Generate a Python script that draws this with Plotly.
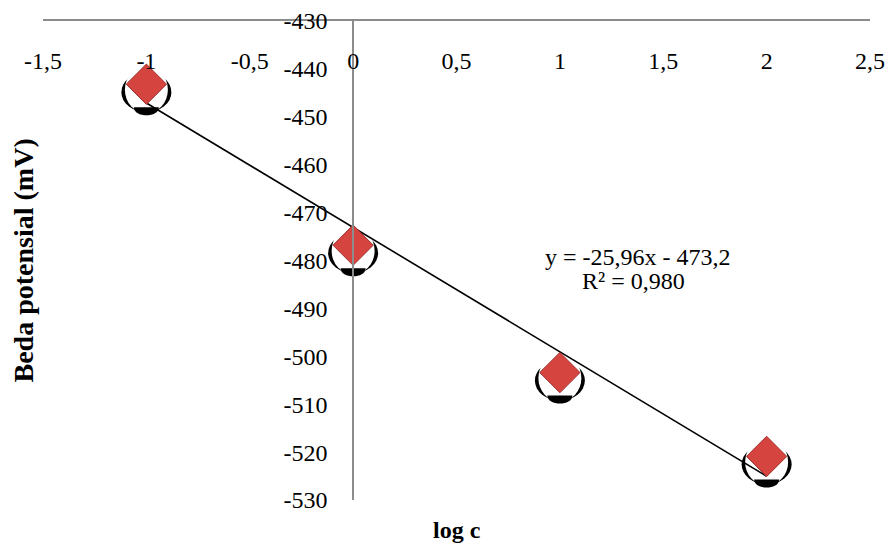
import numpy as np
import plotly.graph_objects as go

# Data
log_c = [-1, 0, 1, 2]
potential = [-443.2, -476.8, -503.4, -520.9]

x_tick_vals = [-1.5, -1, -0.5, 0, 0.5, 1, 1.5, 2, 2.5]
x_tick_text = ["-1,5", "-1", "-0,5", "0", "0,5", "1", "1,5", "2", "2,5"]
y_tick_vals = [-530, -520, -510, -500, -490, -480, -470, -460, -450, -440, -430]
y_tick_text = ["-530", "-520", "-510", "-500", "-490", "-480", "-470", "-460", "-450", "-440", "-430"]

eq_text = "y = -25,96x - 473,2"
r2_text = "R² = 0,980"
x_title = "log c"
y_title = "Beda potensial (mV)"

FONT = "Liberation Serif, Times New Roman, serif"
X_RANGE = [-1.5, 2.5]
Y_RANGE = [-530, -430]

slope, intercept = np.polyfit(log_c, potential, 1)
trend_x = [min(log_c), max(log_c)]
trend_y = [slope * v + intercept for v in trend_x]

fig = go.Figure()

# marker "shadow" decorations, anchored at each data point, sized in pixels
shapes = []
for xv, yv in zip(log_c, potential):
    common = dict(xref="x", yref="y", layer="below", xsizemode="pixel",
                  ysizemode="pixel", xanchor=xv, yanchor=yv, line=dict(width=0))
    shapes.append(dict(type="circle", x0=-25, x1=25, y0=-28, y1=12,
                       fillcolor="black", **common))
    shapes.append(dict(type="circle", x0=-21.5, x1=21.5, y0=-29, y1=18,
                       fillcolor="white", **common))
    shapes.append(dict(type="path",
                       path="M -12.5,-23 C -12.5,-33.7 12.5,-33.7 12.5,-23 Z",
                       fillcolor="black", **common))

# trendline
fig.add_trace(go.Scatter(
    x=trend_x, y=trend_y, mode="lines",
    line=dict(color="black", width=1.6),
    showlegend=False, hoverinfo="skip",
))

# diamonds
fig.add_trace(go.Scatter(
    x=log_c, y=potential, mode="markers",
    marker=dict(symbol="diamond", size=31, color="#d5443f",
                line=dict(color="#9c2f2c", width=1)),
    showlegend=False,
))

# invisible trace carrying the tick-label axis
fig.add_trace(go.Scatter(
    x=log_c, y=potential, mode="markers", xaxis="x2",
    marker=dict(opacity=0), showlegend=False, hoverinfo="skip",
))

fig.add_annotation(x=0.7195, y=0.507, xref="paper", yref="paper", text=eq_text,
                   showarrow=False, font=dict(size=24, family=FONT, color="black"),
                   xanchor="center", yanchor="middle")
fig.add_annotation(x=0.7146, y=0.457, xref="paper", yref="paper", text=r2_text,
                   showarrow=False, font=dict(size=24, family=FONT, color="black"),
                   xanchor="center", yanchor="middle")
fig.add_annotation(x=0.5, y=-0.063, xref="paper", yref="paper", text="<b>" + x_title + "</b>",
                   showarrow=False, font=dict(size=24, family=FONT, color="black"),
                   xanchor="center", yanchor="middle")
fig.add_annotation(x=-0.0230, y=0.5, xref="paper", yref="paper", text="<b>" + y_title + "</b>",
                   showarrow=False, textangle=-90, font=dict(size=28, family=FONT, color="black"),
                   xanchor="center", yanchor="middle")

fig.update_layout(
    width=893, height=546,
    margin=dict(l=43, r=23, t=21, b=46),
    paper_bgcolor="white", plot_bgcolor="white",
    font=dict(family=FONT, size=24, color="black"),
    shapes=shapes,
    xaxis=dict(
        range=X_RANGE, side="top", anchor="y", automargin=False,
        showticklabels=False,
        showline=True, linecolor="#8c8c8c", linewidth=1.6,
        showgrid=False, zeroline=False, ticks="",
    ),
    xaxis2=dict(
        range=X_RANGE, overlaying="x", anchor="free", position=0.952,
        side="bottom", automargin=False,
        tickvals=x_tick_vals, ticktext=x_tick_text,
        showline=False, showgrid=False, zeroline=False, ticks="",
        tickfont=dict(size=24, family=FONT, color="black"),
    ),
    yaxis=dict(
        range=Y_RANGE, anchor="free", position=0.375, automargin=False,
        tickvals=y_tick_vals, ticktext=y_tick_text,
        ticklabelstandoff=20,
        showline=True, linecolor="#8c8c8c", linewidth=1.6,
        showgrid=False, zeroline=False, ticks="",
        tickfont=dict(size=24, family=FONT, color="black"),
    ),
)

fig.write_html("out.html", config={"displayModeBar": False},
               post_script="document.body.style.margin='0';document.body.style.overflow='hidden';")
